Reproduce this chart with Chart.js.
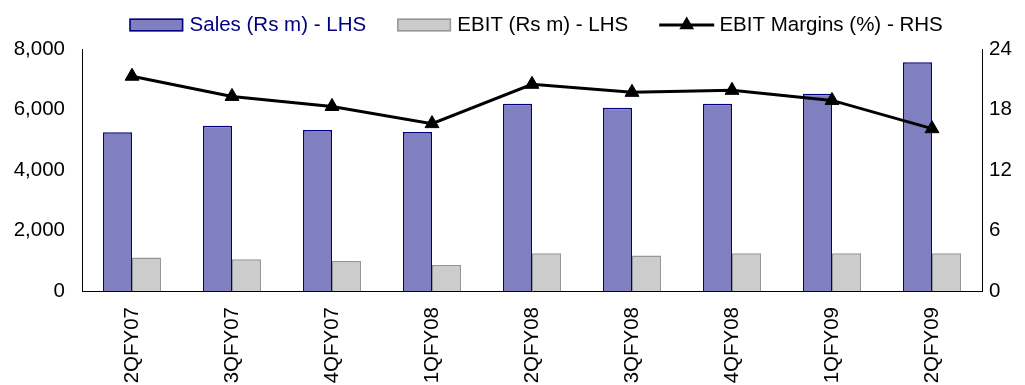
<!DOCTYPE html>
<html>
<head>
<meta charset="utf-8">
<script src="https://cdn.jsdelivr.net/npm/chart.js@4/dist/chart.umd.min.js"></script>
<style>
  html, body { margin: 0; padding: 0; background: #fff; }
  canvas { display: block; }
</style>
</head>
<body>
<canvas id="c" width="1025" height="385"></canvas>
<script>
const categories = ['2QFY07','3QFY07','4QFY07','1QFY08','2QFY08','3QFY08','4QFY08','1QFY09','2QFY09'];
const salesValues = [5250, 5460, 5320, 5260, 6190, 6060, 6190, 6520, 7560];
const ebitValues = [1110, 1050, 990, 860, 1245, 1170, 1245, 1245, 1245];
const marginValues = [21.3, 19.3, 18.3, 16.6, 20.5, 19.7, 19.9, 18.9, 16.1];
const seriesLabels = ['Sales (Rs m) - LHS', 'EBIT (Rs m) - LHS', 'EBIT Margins (%) - RHS'];

const FONT = { family: '"Liberation Sans", Arial, sans-serif', size: 20.5 };

const legendPlugin = {
  id: 'legendTweaks',
  beforeLayout(chart) {
    const lg = chart.legend;
    if (lg && !lg._patchedFit) {
      const origFit = lg.fit;
      lg.fit = function () { origFit.call(this); this.height = 49; };
      lg._patchedFit = true;
    }
  },
  afterLayout(chart) {
    const lg = chart.legend;
    if (!lg) return;
    lg.left += 23.5; lg.right += 23.5;
    lg.top = -16; lg.bottom = 60;
  },
  afterDraw(chart) {
    const lg = chart.legend;
    if (!lg || !lg.legendHitBoxes) return;
    const ctx = chart.ctx;
    ctx.save();
    lg.legendHitBoxes.forEach((hb, i) => {
      const dsIndex = lg.legendItems[i].datasetIndex;
      const ds = chart.data.datasets[dsIndex];
      const cy = 25;
      const x = hb.left;
      if (ds.type === 'bar') {
        ctx.fillStyle = ds.backgroundColor;
        ctx.strokeStyle = ds.borderColor;
        ctx.lineWidth = 1.5;
        ctx.fillRect(x, cy - 6.5, 54, 13);
        ctx.strokeRect(x + 0.75, cy - 5.75, 52.5, 11.5);
      } else {
        ctx.strokeStyle = '#000';
        ctx.lineWidth = 3;
        ctx.beginPath();
        ctx.moveTo(x, cy);
        ctx.lineTo(x + 55, cy);
        ctx.stroke();
        const mx = x + 27.5, r = 8.5;
        ctx.fillStyle = '#000';
        ctx.beginPath();
        ctx.moveTo(mx, cy - r);
        ctx.lineTo(mx + r * 0.866, cy + r * 0.5);
        ctx.lineTo(mx - r * 0.866, cy + r * 0.5);
        ctx.closePath();
        ctx.fill();
      }
    });
    ctx.restore();
  }
};

new Chart(document.getElementById('c'), {
  data: {
    labels: categories,
    datasets: [
      {
        type: 'line',
        label: seriesLabels[2],
        data: marginValues,
        yAxisID: 'y1',
        borderColor: '#000',
        backgroundColor: '#000',
        borderWidth: 3,
        pointStyle: 'triangle',
        pointRadius: 8,
        pointBorderWidth: 1,
        pointBackgroundColor: '#000',
        pointBorderColor: '#000',
        tension: 0,
        order: 0
      },
      {
        type: 'bar',
        label: seriesLabels[0],
        data: salesValues,
        yAxisID: 'y',
        backgroundColor: '#8080C0',
        borderColor: '#000080',
        borderWidth: 1.5,
        barPercentage: 1,
        categoryPercentage: 0.58,
        order: 1
      },
      {
        type: 'bar',
        label: seriesLabels[1],
        data: ebitValues,
        yAxisID: 'y',
        backgroundColor: '#CCCCCC',
        borderColor: '#969696',
        borderWidth: 1.5,
        barPercentage: 1,
        categoryPercentage: 0.58,
        order: 1
      }
    ]
  },
  options: {
    responsive: false,
    animation: false,
    events: [],
    layout: { padding: 0 },
    plugins: {
      tooltip: { enabled: false },
      legend: {
        display: true,
        position: 'top',
        labels: {
          font: FONT,
          color: '#000',
          boxWidth: 50,
          boxHeight: 13,
          padding: 31,
          generateLabels(chart) {
            const order = [1, 2, 0];
            return order.map(i => ({
              text: chart.data.datasets[i].label,
              fillStyle: 'rgba(0,0,0,0)',
              strokeStyle: 'rgba(0,0,0,0)',
              lineWidth: 0,
              hidden: false,
              datasetIndex: i,
              fontColor: i === 1 ? '#000080' : '#000'
            }));
          }
        }
      }
    },
    scales: {
      x: {
        type: 'category',
        offset: true,
        grid: { display: false, drawTicks: false },
        border: { display: true, color: '#000', width: 1 },
        ticks: {
          font: FONT, color: '#000',
          minRotation: 90, maxRotation: 90,
          padding: 16,
          autoSkip: false
        },
        afterFit(scale) { scale.height = 94; }
      },
      y: {
        position: 'left',
        min: 0, max: 8000,
        grid: { display: false, drawTicks: false },
        border: { display: true, color: '#000', width: 1 },
        ticks: {
          stepSize: 2000, font: FONT, color: '#000', padding: 17,
          callback: v => v.toLocaleString('en-US')
        },
        afterFit(scale) { scale.width = 82; }
      },
      y1: {
        position: 'right',
        min: 0, max: 24,
        grid: { display: false, drawTicks: false },
        border: { display: true, color: '#000', width: 1 },
        ticks: { stepSize: 6, font: FONT, color: '#000', padding: 7 },
        afterFit(scale) { scale.width = 43; }
      }
    }
  },
  plugins: [legendPlugin]
});
</script>
</body>
</html>
